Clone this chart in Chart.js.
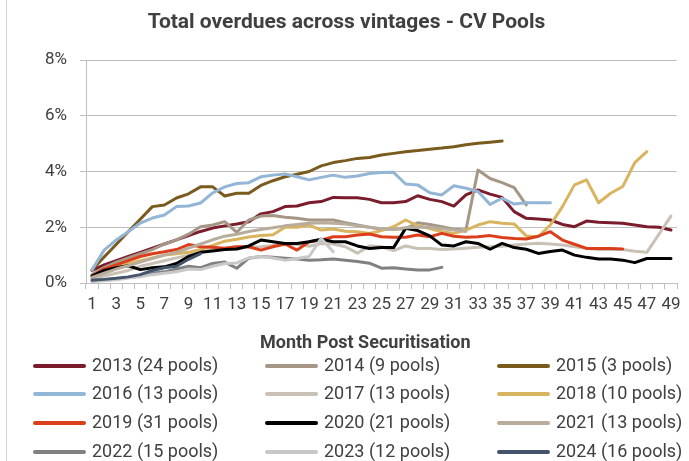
<!DOCTYPE html>
<html>
<head>
<meta charset="utf-8">
<script src="https://cdn.jsdelivr.net/npm/chart.js@4.4.0/dist/chart.umd.min.js"></script>
<style>
  body { margin: 0; background: #fff; font-family: Roboto, "Liberation Sans", sans-serif; }
  #wrap { position: relative; width: 689px; height: 461px; overflow: hidden; }
  #frame { position: absolute; left: 6px; top: 0; width: 1px; height: 461px; background: #d4d4d4; }
  #title { position: absolute; left: 0; width: 693px; top: 9px; text-align: center;
           font-size: 21px; font-weight: bold; color: #404040; }
  #xtitle { position: absolute; left: 260px; width: 200px; top: 331px; text-align: center;
            font-size: 18px; font-weight: bold; color: #404040; white-space: nowrap; }
  .lg { position: absolute; height: 20px; font-size: 18px; color: #404040; white-space: nowrap; }
  .lg span.sw { position: absolute; left: 0; top: 8px; width: 53px; height: 4px; border-radius: 2px; }
  .lg span.tx { position: absolute; left: 59px; top: -2px; }
  canvas { position: absolute; left: 0; top: 0; }
</style>
</head>
<body>
<div id="wrap">
  <canvas id="overdueChart" width="689" height="461"></canvas>
  <div id="frame"></div>
  <div id="title">Total overdues across vintages - CV Pools</div>
  <div id="xtitle">Month Post Securitisation</div>
  <div id="legend"></div>
</div>
<script>
// month post securitisation
const months = Array.from({ length: 49 }, (_, i) => String(i + 1))
const yTicks = [0, 2, 4, 6, 8]

// overdue % by vintage
const v2013 = [0.45, 0.65, 0.8, 0.95, 1.1, 1.25, 1.4, 1.55, 1.7, 1.85, 1.97, 2.05, 2.12, 2.2, 2.48, 2.56, 2.74, 2.76, 2.88, 2.92, 3.07, 3.06, 3.06, 3.0, 2.88, 2.88, 2.92, 3.13, 3.0, 2.92, 2.76, 3.16, 3.34, 3.19, 3.07, 2.56, 2.32, 2.3, 2.26, 2.1, 2.02, 2.22, 2.18, 2.16, 2.14, 2.08, 2.02, 2.0, 1.9]
const v2014 = [0.3, 0.55, 0.75, 0.9, 1.05, 1.2, 1.4, 1.55, 1.75, 2.02, 2.08, 2.2, 1.82, 2.26, 2.4, 2.42, 2.36, 2.32, 2.26, 2.26, 2.26, 2.16, 2.08, 2.0, 1.93, 1.93, 1.95, 2.16, 2.1, 2.02, 1.93, 1.9, 4.05, 3.75, 3.6, 3.42, 2.8]
const v2015 = [0.47, 0.93, 1.38, 1.84, 2.29, 2.74, 2.8, 3.05, 3.2, 3.45, 3.45, 3.12, 3.22, 3.22, 3.5, 3.67, 3.81, 3.9, 4.0, 4.2, 4.32, 4.39, 4.47, 4.5, 4.59, 4.65, 4.71, 4.75, 4.8, 4.84, 4.89, 4.96, 5.01, 5.05, 5.09]
const v2016 = [0.47, 1.18, 1.54, 1.84, 2.15, 2.33, 2.44, 2.74, 2.76, 2.87, 3.23, 3.45, 3.57, 3.6, 3.81, 3.87, 3.91, 3.81, 3.7, 3.79, 3.87, 3.79, 3.84, 3.93, 3.96, 3.97, 3.55, 3.52, 3.24, 3.16, 3.49, 3.4, 3.28, 2.82, 3.04, 2.83, 2.88, 2.88, 2.88]
const v2017 = [0.15, 0.25, 0.35, 0.45, 0.6, 0.7, 0.8, 0.9, 1.0, 1.1, 1.2, 1.25, 1.3, 1.28, 1.3, 1.35, 1.38, 1.4, 1.32, 1.42, 1.4, 1.3, 1.07, 1.33, 1.3, 1.16, 1.33, 1.24, 1.24, 1.2, 1.22, 1.25, 1.28, 1.3, 1.32, 1.36, 1.4, 1.43, 1.4, 1.36, 1.3, 1.25, 1.2, 1.2, 1.2, 1.14, 1.1, 1.75, 2.4]
const v2018 = [0.2, 0.4, 0.55, 0.7, 0.8, 0.9, 1.0, 1.05, 1.1, 1.2, 1.35, 1.5, 1.57, 1.65, 1.7, 1.73, 2.0, 2.0, 2.08, 1.9, 1.94, 1.86, 1.84, 1.78, 1.88, 2.02, 2.26, 2.06, 1.95, 1.84, 1.78, 1.9, 2.08, 2.2, 2.14, 2.12, 1.69, 1.66, 2.08, 2.74, 3.52, 3.7, 2.88, 3.22, 3.46, 4.32, 4.71]
const v2019 = [0.25, 0.5, 0.65, 0.8, 0.95, 1.05, 1.12, 1.2, 1.38, 1.3, 1.28, 1.25, 1.3, 1.3, 1.18, 1.3, 1.4, 1.18, 1.48, 1.54, 1.66, 1.66, 1.72, 1.76, 1.66, 1.64, 1.64, 1.72, 1.66, 1.78, 1.68, 1.64, 1.66, 1.7, 1.63, 1.6, 1.58, 1.68, 1.84, 1.54, 1.39, 1.24, 1.24, 1.24, 1.22]
const v2020 = [0.25, 0.45, 0.55, 0.62, 0.48, 0.55, 0.58, 0.7, 0.95, 1.1, 1.15, 1.2, 1.22, 1.33, 1.54, 1.48, 1.42, 1.42, 1.48, 1.57, 1.48, 1.48, 1.33, 1.24, 1.27, 1.27, 1.96, 1.88, 1.69, 1.36, 1.33, 1.48, 1.42, 1.21, 1.42, 1.27, 1.21, 1.06, 1.13, 1.18, 1.0, 0.92, 0.86, 0.86, 0.82, 0.73, 0.88, 0.88, 0.88]
const v2021 = [0.2, 0.35, 0.5, 0.62, 0.75, 0.88, 1.0, 1.1, 1.25, 1.4, 1.55, 1.68, 1.75, 1.85, 1.92, 1.98, 2.05, 2.1, 2.14, 2.16, 2.14, 2.12, 2.05, 2.0, 1.95, 1.93, 1.98, 2.0, 2.0, 1.95, 1.9, 1.85]
const v2022 = [0.1, 0.12, 0.15, 0.2, 0.25, 0.35, 0.4, 0.5, 0.6, 0.55, 0.7, 0.75, 0.53, 0.89, 0.95, 0.92, 0.89, 0.86, 0.82, 0.83, 0.86, 0.82, 0.77, 0.71, 0.53, 0.55, 0.5, 0.47, 0.47, 0.56]
const v2023 = [0.05, 0.08, 0.12, 0.18, 0.22, 0.3, 0.35, 0.4, 0.5, 0.48, 0.6, 0.7, 0.72, 0.9, 0.95, 0.9, 0.82, 0.88, 0.95, 1.6, 1.12]
const v2024 = [0.1, 0.13, 0.17, 0.22, 0.3, 0.45, 0.55, 0.6, 0.85, 1.05]

const seriesNames = ["2013 (24 pools)", "2014 (9 pools)", "2015 (3 pools)", "2016 (13 pools)", "2017 (13 pools)", "2018 (10 pools)",
  "2019 (31 pools)", "2020 (21 pools)", "2021 (13 pools)", "2022 (15 pools)", "2023 (12 pools)", "2024 (16 pools)"]
const seriesData = [v2013, v2014, v2015, v2016, v2017, v2018, v2019, v2020, v2021, v2022, v2023, v2024]
const seriesColors = ["#7b1c2c", "#a69686", "#7a5b1e", "#93b5d6", "#c9c1b5", "#d8b45f",
  "#dc3e1c", "#000000", "#b8ad9d", "#808080", "#c8c8c8", "#44546a"]

const datasets = seriesData.map((d, i) => ({
  label: seriesNames[i],
  data: d,
  borderColor: seriesColors[i],
  backgroundColor: seriesColors[i],
  borderWidth: 3,
  pointRadius: 0,
  tension: 0,
  fill: false,
  borderJoinStyle: "round",
  borderCapStyle: "round",
  order: seriesData.length - i, // later vintages on top, like Excel
}))

const tickFont = { family: "Roboto, 'Liberation Sans', sans-serif", size: 17 }

new Chart(document.getElementById("overdueChart"), {
  type: "line",
  data: { labels: months, datasets: datasets },
  options: {
    responsive: false,
    animation: false,
    layout: { padding: { top: 60, right: 12, bottom: 148, left: 0 } },
    plugins: { legend: { display: false }, title: { display: false }, tooltip: { enabled: false } },
    scales: {
      x: {
        offset: true,
        grid: { offset: true, drawOnChartArea: false, drawTicks: true, tickLength: 6, color: "#bfbfbf" },
        border: { color: "#bfbfbf" },
        ticks: {
          autoSkip: false, maxRotation: 0, padding: 6, color: "#404040", font: tickFont,
          callback: (v, i) => (i % 2 === 0 ? months[i] : ""),
        },
        afterFit: (scale) => { scale.height = 30 },
      },
      y: {
        min: 0,
        max: 8,
        grid: { color: "#bfbfbf", tickLength: 6 },
        border: { color: "#bfbfbf" },
        ticks: {
          stepSize: 2, padding: 13, color: "#404040", font: tickFont,
          callback: (v) => (yTicks.includes(v) ? v + "%" : ""),
        },
        afterFit: (scale) => { scale.width = 86 },
      },
    },
  },
})

// legend: 3 columns x 4 rows
const legendBox = document.getElementById("legend")
const colX = [33, 265, 497]
const rowY = [356, 384, 413, 442]
seriesNames.forEach((name, i) => {
  const item = document.createElement("div")
  item.className = "lg"
  item.style.left = colX[i % 3] + "px"
  item.style.top = rowY[Math.floor(i / 3)] + "px"
  item.innerHTML = '<span class="sw" style="background:' + seriesColors[i] + '"></span><span class="tx">' + name + "</span>"
  legendBox.appendChild(item)
})
</script>
</body>
</html>
